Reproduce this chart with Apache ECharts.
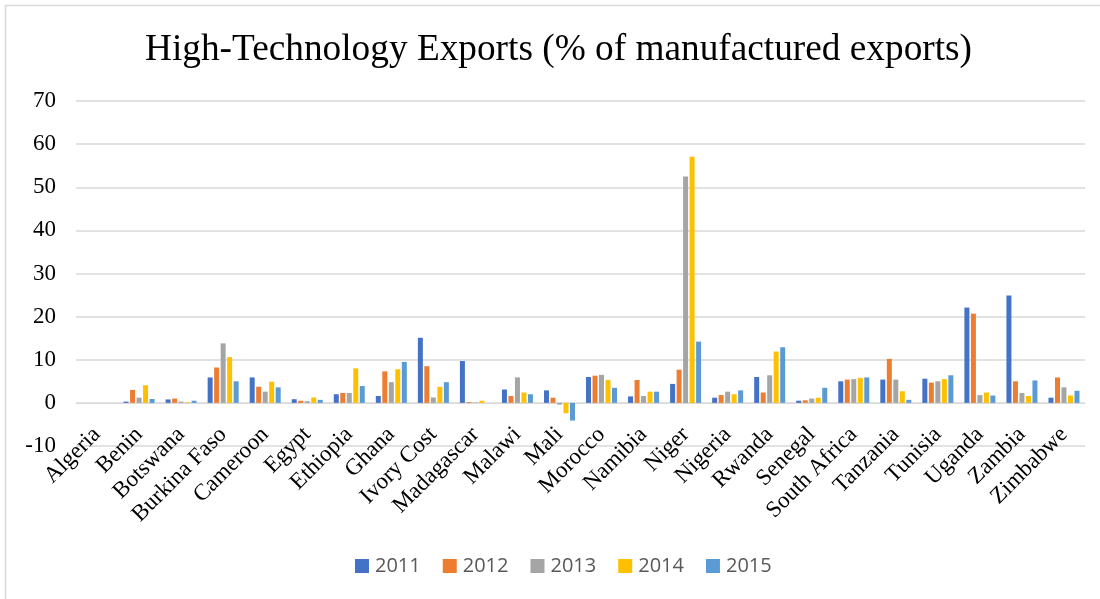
<!DOCTYPE html>
<html>
<head>
<meta charset="utf-8">
<script src="https://cdn.jsdelivr.net/npm/echarts@6/dist/echarts.min.js"></script>
<style>html,body{margin:0;padding:0;background:#fff}#c{width:1100px;height:599px}</style>
</head>
<body>
<div id="c"></div>
<script>
const categories = ["Algeria","Benin","Botswana","Burkina Faso","Cameroon","Egypt","Ethiopia","Ghana","Ivory Cost","Madagascar","Malawi","Mali","Morocco","Namibia","Niger","Nigeria","Rwanda","Senegal","South Africa","Tanzania","Tunisia","Uganda","Zambia","Zimbabwe"];
const years = ["2011","2012","2013","2014","2015"];
const v2011 = [0, 0.3, 0.8, 5.9, 5.9, 0.85, 2.0, 1.6, 15.1, 9.7, 3.1, 2.9, 6.0, 1.5, 4.4, 1.2, 6.0, 0.5, 5.0, 5.4, 5.6, 22.1, 24.9, 1.2];
const v2012 = [0, 3.0, 1.0, 8.2, 3.75, 0.5, 2.3, 7.3, 8.5, 0.2, 1.6, 1.2, 6.3, 5.3, 7.7, 1.8, 2.4, 0.6, 5.4, 10.2, 4.7, 20.7, 5.0, 5.9];
const v2013 = [0, 1.2, 0.3, 13.8, 2.6, 0.4, 2.3, 4.8, 1.25, 0.1, 5.9, -0.4, 6.5, 1.6, 52.5, 2.6, 6.4, 1.0, 5.5, 5.4, 5.0, 1.8, 2.3, 3.6];
const v2014 = [0, 4.1, 0.15, 10.6, 4.9, 1.25, 8.0, 7.8, 3.7, 0.5, 2.4, -2.4, 5.3, 2.6, 57.1, 2.0, 11.9, 1.2, 5.8, 2.7, 5.5, 2.4, 1.6, 1.7];
const v2015 = [0, 0.9, 0.5, 5.0, 3.6, 0.7, 3.9, 9.5, 4.8, 0, 2.0, -4.1, 3.5, 2.6, 14.2, 2.9, 12.9, 3.5, 5.9, 0.7, 6.4, 1.7, 5.2, 2.8];
const yTicks = { min: -10, max: 70, interval: 10 };

const seriesValues = [v2011, v2012, v2013, v2014, v2015];
const colors = ["#4472C4", "#ED7D31", "#A5A5A5", "#FFC000", "#5B9BD5"];
const serif = "'Liberation Serif', 'Times New Roman', serif";

const chart = echarts.init(document.getElementById('c'), null, { renderer: 'canvas' });
chart.setOption({
  animation: false,
  backgroundColor: '#fff',
  color: colors,
  textStyle: { fontFamily: serif },
  title: {
    text: 'High-Technology Exports (% of manufactured exports)',
    left: 140,
    top: 27,
    textStyle: { fontFamily: serif, fontSize: 37.3, fontWeight: 'normal', color: '#000' }
  },
  legend: {
    bottom: 18,
    left: 350,
    itemWidth: 14,
    itemHeight: 14,
    itemGap: 22,
    icon: 'rect',
    textStyle: { fontFamily: "'Open Sans', 'Liberation Sans', sans-serif", fontSize: 20, color: '#595959', padding: [0, 0, 0, 1] },
    data: years
  },
  graphic: [{
    type: 'rect',
    shape: { x: 5.5, y: 5.5, width: 1100, height: 600 },
    style: { fill: 'none', stroke: '#d9d9d9', lineWidth: 1.5 },
    silent: true
  }],
  grid: { left: 76, right: 15, top: 101, bottom: 153, containLabel: false },
  xAxis: {
    type: 'category',
    data: categories,
    axisLine: { show: true, onZero: true, lineStyle: { color: '#d9d9d9' } },
    axisTick: { show: false },
    axisLabel: {
      interval: 0,
      rotate: 45,
      margin: -15,
      fontFamily: serif,
      fontSize: 23,
      color: '#000'
    }
  },
  yAxis: {
    type: 'value',
    min: yTicks.min,
    max: yTicks.max,
    interval: yTicks.interval,
    axisLine: { show: false },
    axisTick: { show: false },
    splitLine: { lineStyle: { color: '#d9d9d9', width: 1.5 } },
    axisLabel: { fontFamily: serif, fontSize: 23, color: '#000', margin: 20 }
  },
  series: years.map((y, i) => ({
    name: y,
    type: 'bar',
    data: seriesValues[i],
    barWidth: 5,
    barGap: '30%',
    itemStyle: { color: colors[i] }
  }))
});
</script>
</body>
</html>
